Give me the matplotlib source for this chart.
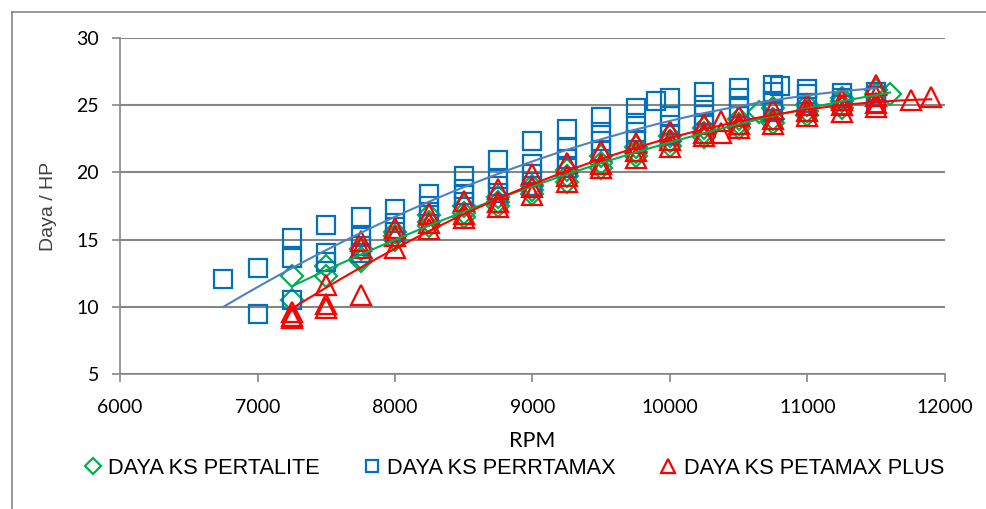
import numpy as np
import matplotlib
matplotlib.use("Agg")
import matplotlib.pyplot as plt
from matplotlib.lines import Line2D

# ---- data ----
rpm_pertalite = [7250, 7250, 7500, 7500, 7750, 7750, 7750, 8000, 8000, 8000,
                 8250, 8250, 8250, 8500, 8500, 8500, 8750, 8750, 8750,
                 9000, 9000, 9000, 9250, 9250, 9250, 9500, 9500, 9500,
                 9750, 9750, 9750, 10000, 10000, 10000, 10250, 10250, 10250,
                 10500, 10500, 10500, 10650, 10750, 10750, 10750,
                 11000, 11000, 11000, 11250, 11250, 11250, 11500, 11500, 11600]
hp_pertalite = [12.3, 10.5, 13.0, 12.3, 14.3, 13.6, 13.4, 15.6, 15.3, 15.0,
                16.8, 16.3, 16.0, 17.5, 17.0, 16.7, 18.2, 17.8, 17.5,
                19.0, 18.7, 18.4, 20.2, 19.7, 19.3, 21.2, 20.7, 20.3,
                21.9, 21.5, 21.2, 22.7, 22.3, 22.0, 23.3, 22.9, 22.6,
                24.0, 23.6, 23.3, 24.5, 24.8, 24.0, 23.7,
                25.0, 24.6, 24.3, 25.5, 25.3, 24.8, 26.1, 25.8, 25.8]

rpm_pertamax = [6750, 7000, 7000, 7250, 7250, 7250, 7500, 7500, 7500,
                7750, 7750, 7750, 7750, 8000, 8000, 8000, 8250, 8250, 8250,
                8500, 8500, 8500, 8500, 8750, 8750, 8750, 8750,
                9000, 9000, 9000, 9000, 9250, 9250, 9250, 9250,
                9500, 9500, 9500, 9500, 9750, 9750, 9750, 9750,
                9900, 10000, 10000, 10000, 10000,
                10250, 10250, 10250, 10250, 10500, 10500, 10500, 10500,
                10750, 10750, 10750, 10750, 10800,
                11000, 11000, 11000, 11250, 11250, 11250, 11500, 11500, 11500]
hp_pertamax = [12.1, 12.9, 9.5, 15.1, 13.6, 10.5, 16.1, 14.0, 13.3,
               16.7, 15.2, 14.5, 14.0, 17.3, 16.2, 15.6, 18.4, 17.5, 16.8,
               19.7, 18.8, 18.3, 17.8, 20.9, 19.5, 19.0, 18.5,
               22.3, 20.6, 19.9, 19.0, 23.2, 21.8, 21.0, 20.3,
               24.1, 23.0, 22.3, 21.6, 24.8, 23.7, 23.0, 22.4,
               25.3, 25.5, 24.2, 23.5, 22.8,
               26.0, 25.0, 24.3, 23.5, 26.3, 25.5, 24.8, 24.2,
               26.5, 26.0, 25.3, 24.5, 26.4,
               26.2, 25.8, 25.2, 25.9, 25.5, 25.0, 26.0, 25.7, 25.2]

rpm_pertamax_plus = [7250, 7250, 7250, 7500, 7500, 7500, 7750, 7750, 7750,
                     8000, 8000, 8000, 8250, 8250, 8250, 8500, 8500, 8500,
                     8750, 8750, 8750, 9000, 9000, 9000, 9250, 9250, 9250,
                     9500, 9500, 9500, 9750, 9750, 9750, 10000, 10000, 10000,
                     10250, 10250, 10250, 10370, 10370, 10500, 10500, 10500,
                     10750, 10750, 10750, 11000, 11000, 11000,
                     11250, 11250, 11250, 11500, 11500, 11500, 11500, 11750, 11900]
hp_pertamax_plus = [9.6, 9.3, 9.2, 11.6, 10.2, 9.9, 14.9, 14.4, 10.9,
                    15.9, 15.3, 14.4, 16.9, 16.2, 15.8, 17.9, 16.9, 16.6,
                    18.8, 17.8, 17.4, 19.9, 18.9, 18.3, 20.7, 19.7, 19.3,
                    21.6, 20.6, 20.3, 22.2, 21.6, 21.1, 23.1, 22.4, 21.9,
                    23.6, 22.9, 22.7, 23.8, 22.9, 24.2, 23.6, 23.3,
                    24.7, 24.0, 23.6, 25.0, 24.6, 24.2,
                    25.4, 25.0, 24.5, 26.5, 25.7, 25.2, 24.9, 25.4, 25.6]

labels = ["DAYA KS PERTALITE", "DAYA KS PERRTAMAX", "DAYA KS PETAMAX PLUS"]
x_ticks = [6000, 7000, 8000, 9000, 10000, 11000, 12000]
y_ticks = [5, 10, 15, 20, 25, 30]

# ---- figure ----
W, H = 987, 509
fig = plt.figure(figsize=(W / 100, H / 100), dpi=100)
ax = fig.add_axes([120 / W, 1 - 374 / H, (945 - 120) / W, (374 - 38) / H])

grey = "#868686"
c_green, c_blue, c_red = "#00B050", "#0070C0", "#FF0000"
trend_blue = "#4F81BD"

series = [
    (rpm_pertalite, hp_pertalite, "D", c_green, c_green, 11),
    (rpm_pertamax, hp_pertamax, "s", c_blue, trend_blue, 13),
    (rpm_pertamax_plus, hp_pertamax_plus, "^", c_red, c_red, 14),
]

handles = []
for (xs, ys, mk, col, tcol, ms), lab in zip(series, labels):
    xs = np.asarray(xs, float)
    ys = np.asarray(ys, float)
    h, = ax.plot(xs, ys, linestyle="none", marker=mk, markersize=ms,
                 markerfacecolor="none", markeredgecolor=col,
                 markeredgewidth=1.6, label=lab, zorder=3)
    handles.append(h)
    # second-order polynomial trendline across the measured range
    coef = np.polyfit(xs, ys, 2)
    xf = np.linspace(xs.min(), xs.max(), 200)
    ax.plot(xf, np.polyval(coef, xf), color=tcol, linewidth=1.5, zorder=4)

ax.set_xlim(6000, 12000)
ax.set_ylim(5, 30)
ax.set_xticks(x_ticks)
ax.set_yticks(y_ticks)

tick_font = {"family": ["Lato", "DejaVu Sans"], "size": 14}
ax.set_xticklabels([str(v) for v in x_ticks], fontdict=tick_font)
ax.set_yticklabels([str(v) for v in y_ticks], fontdict=tick_font)

ax.grid(axis="y", color=grey, linewidth=1.5)
ax.set_axisbelow(True)
for side in ("top", "right"):
    ax.spines[side].set_visible(False)
for side in ("left", "bottom"):
    ax.spines[side].set_color(grey)
    ax.spines[side].set_linewidth(1.2)
ax.tick_params(axis="both", direction="out", length=6, color=grey,
               width=1.2, labelcolor="black")
ax.tick_params(axis="x", pad=12)
ax.tick_params(axis="y", pad=9)

ax.set_xlabel("RPM", fontsize=15.5, family=["Lato", "Liberation Sans"], labelpad=11)
ax.set_ylabel("Daya / HP", fontsize=14, color="#404040",
              family=["Liberation Sans"], labelpad=14)

fig.legend(handles=handles, labels=labels, loc="center",
           bbox_to_anchor=(515 / W, 1 - 468 / H), ncol=3, frameon=False,
           prop={"family": ["Liberation Sans"], "size": 15.7},
           handlelength=0.6, handletextpad=0.4, columnspacing=2.1,
           markerscale=0.7)

# chart border
fig.add_artist(Line2D([12 / W, 12 / W], [0, 1 - 12 / H], transform=fig.transFigure,
                      color=grey, linewidth=1.2))
fig.add_artist(Line2D([12 / W, 1], [1 - 12 / H, 1 - 12 / H], transform=fig.transFigure,
                      color=grey, linewidth=1.2))

fig.savefig("out.png", dpi=100)
